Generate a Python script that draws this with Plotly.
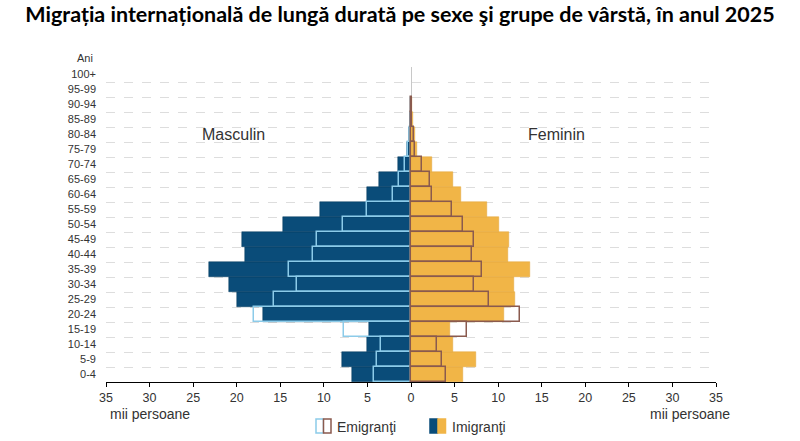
import plotly.graph_objects as go

# age groups, bottom to top
grupe = ['0-4', '5-9', '10-14', '15-19', '20-24', '25-29', '30-34', '35-39', '40-44',
         '45-49', '50-54', '55-59', '60-64', '65-69', '70-74', '75-79', '80-84',
         '85-89', '90-94', '95-99', '100+']

# thousand persons
imigranti_m = [6.8, 7.95, 5.1, 4.85, 16.95, 19.95, 20.85, 23.15, 19.1,
               19.35, 14.65, 10.4, 5.1, 3.7, 1.45, 0.5, 0.25, 0.1, 0.05, 0, 0]
emigranti_m = [4.25, 3.9, 3.45, 7.7, 18.0, 15.7, 13.05, 14.0, 11.2,
               10.75, 7.75, 5.0, 2.1, 1.35, 0.7, 0.3, 0.15, 0.05, 0.03, 0, 0]
imigranti_f = [6.0, 7.45, 4.8, 4.5, 10.7, 11.95, 11.85, 13.65, 11.1,
               11.2, 10.15, 8.7, 5.75, 4.8, 2.45, 0.65, 0.45, 0.2, 0.15, 0, 0]
emigranti_f = [4.0, 3.6, 3.0, 6.4, 12.5, 9.0, 7.25, 8.1, 7.05,
               7.25, 5.95, 4.75, 2.45, 2.2, 1.3, 0.45, 0.3, 0.15, 0.15, 0, 0]

x_ticks = list(range(-35, 40, 5))

BLUE = '#0a4c79'
LIGHTBLUE = '#8ccbe9'
ORANGE = '#f1b547'
BROWN = '#8a5a4e'
FONT = 'Liberation Sans, Arial, sans-serif'

rows = list(range(len(grupe)))

def left(vals):
    # male side goes to the left; empty groups get no bar at all
    return [-v if v else None for v in vals]

def right(vals):
    return [v if v else None for v in vals]

fig = go.Figure()

fig.add_trace(go.Bar(y=rows, x=left(imigranti_m), orientation='h', width=1,
                     marker=dict(color=BLUE, line=dict(color='#063a5e', width=0.5)),
                     showlegend=False))
fig.add_trace(go.Bar(y=rows, x=right(imigranti_f), orientation='h', width=1,
                     marker=dict(color=ORANGE, line=dict(color='#e2a438', width=0.5)),
                     showlegend=False))
fig.add_trace(go.Bar(y=rows, x=left(emigranti_m), orientation='h', width=1,
                     marker=dict(color='rgba(0,0,0,0)', line=dict(color=LIGHTBLUE, width=1.5)),
                     showlegend=False))
fig.add_trace(go.Bar(y=rows, x=right(emigranti_f), orientation='h', width=1,
                     marker=dict(color='rgba(0,0,0,0)', line=dict(color=BROWN, width=1.5)),
                     showlegend=False))

# plot area in pixels, used to place the hand made legend and labels
L, R, T, B = 106, 716, 67, 382
def px(x):
    return (x - L) / (R - L)
def py(y):
    return (B - y) / (B - T)

shapes = []
icons = [(316, LIGHTBLUE, 'white'), (323.5, BROWN, 'white'),
         (430, BLUE, BLUE), (438, ORANGE, ORANGE)]
for x0, lc, fc in icons:
    shapes.append(dict(type='rect', xref='paper', yref='paper',
                       x0=px(x0), x1=px(x0 + 7.5), y0=py(433), y1=py(419),
                       line=dict(color=lc, width=1.5), fillcolor=fc))

def label(text, x, y, xanchor='center', size=14):
    return dict(text=text, x=px(x), y=py(y), xref='paper', yref='paper',
                xanchor=xanchor, yanchor='middle', showarrow=False,
                font=dict(family=FONT, size=size, color='#333333'))

annotations = [
    label('Masculin', 233, 134, size=16),
    label('Feminin', 556, 134, size=16),
    label('Ani', 95, 58, xanchor='right', size=11),
    label('mii persoane', 150, 414),
    label('mii persoane', 690, 414),
    label('Emigranţi', 335, 427, xanchor='left'),
    label('Imigranţi', 450, 427, xanchor='left'),
]

fig.update_layout(
    width=800, height=441,
    margin=dict(l=L, r=800 - R, t=T, b=441 - B),
    barmode='overlay', bargap=0,
    plot_bgcolor='white', paper_bgcolor='white',
    shapes=shapes,
    title=dict(text='<b>Migrația internațională de lungă durată pe sexe şi grupe de vârstă, în anul 2025</b>',
               x=0.5, xanchor='center', y=1 - 14 / 441, yanchor='middle', yref='container',
               font=dict(family='Lato, sans-serif', size=21.5, color='black')),
    annotations=annotations,
    xaxis=dict(range=[-35, 35], tickvals=x_ticks, ticktext=[str(abs(v)) for v in x_ticks],
               ticks='outside', ticklen=4, tickcolor='black', showline=True, linecolor='black',
               showgrid=False, zeroline=True, zerolinecolor='#c8c8c8', zerolinewidth=1,
               tickfont=dict(family=FONT, size=12.5, color='#333333'), fixedrange=True),
    yaxis=dict(range=[-0.5, 20.5], tickvals=rows, ticktext=grupe, ticks='', showgrid=False,
               zeroline=False, showline=False, ticklabelstandoff=9, fixedrange=True,
               tickfont=dict(family=FONT, size=11, color='#333333'),
               minor=dict(tickvals=[i + 0.5 for i in rows], showgrid=True, griddash='dash',
                          gridcolor='#dddddd', gridwidth=1, ticks='')),
)

fig.write_html('out.html', config={'displayModeBar': False},
               post_script="document.body.style.margin='0';")
